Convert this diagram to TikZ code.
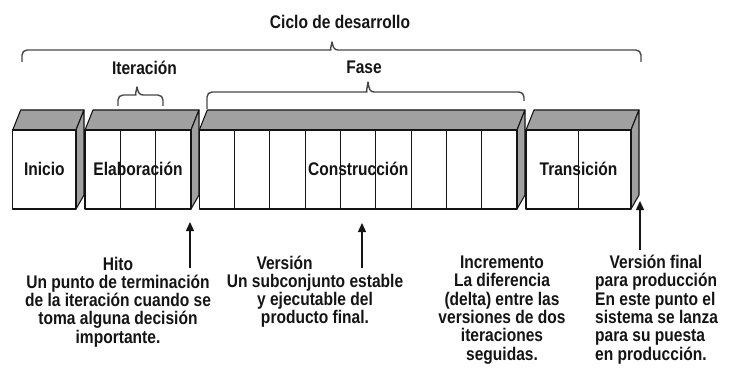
\documentclass[tikz,border=0pt]{standalone}
\usepackage{fontspec}
\newfontfamily\lab[FakeStretch=0.85]{Liberation Sans}
\usetikzlibrary{arrows.meta}
\definecolor{facegray}{RGB}{160,160,160}
\definecolor{bracegray}{RGB}{70,70,70}
\definecolor{ink}{RGB}{20,20,20}
\newcommand\stage[5]{%
  \pgfmathsetmacro\cw{(#3-#2)/#4}
  \filldraw[face] (#2,130) -- (#2+8,110) -- (#3+8,110) -- (#3,130) -- cycle;
  \filldraw[face] (#3,130) -- (#3+8,110) -- (#3+8,195) -- (#3,209) -- cycle;
  \foreach \i in {1,...,#4} {
    \draw[cell] ({#2+(\i-1)*\cw},130) rectangle ({#2+\i*\cw},209);
  }
  \node[lbl, anchor=base] (#1) at ({(#2+#3)/2},175.5) {#5};
}
\newcommand\mybrace[7]{% xL xR yBL yBR yL xT yT
  \draw[brace] (#1,#3) {[rounded corners=5pt] -- (#1,#5) -- (#6-6,#5)}
    .. controls (#6-2,#5) and (#6-1,#5-3) .. (#6,#7)
    .. controls (#6+1,#5-3) and (#6+2,#5) .. (#6+6,#5)
    {[rounded corners=5pt] -- (#2,#5) -- (#2,#4)};
}
\begin{document}
\begin{tikzpicture}[x=1pt,y=-1pt, line join=round,
  face/.style={fill=facegray, draw=ink, line width=1.1pt},
  cell/.style={draw=ink, line width=1.1pt, fill=white},
  lbl/.style={font=\lab\bfseries\fontsize{18.3}{18.3}\selectfont, inner sep=0pt, text=ink},
  brace/.style={draw=bracegray, line width=1.4pt},
  arr/.style={draw=ink, -{Triangle[length=9pt,width=8pt]}, line width=1.4pt}]
\useasboundingbox (0,0) rectangle (734,377);

% stages
\stage{inicio}{12.7}{76}{1}{Inicio}
\stage{elab}{85}{191}{3}{Elaboración}
\stage{constr}{199.3}{517}{9}{Construcción}
\stage{trans}{526}{631}{2}{Transición}

% braces and titles
\mybrace{22}{641}{62}{62}{50}{332}{42}
\mybrace{118}{163}{106}{106}{95}{137}{87}
\mybrace{207}{524}{109}{101}{92}{368}{82}
\node[lbl, anchor=base] (ciclo) at (340,28.5) {Ciclo de desarrollo};
\node[lbl, anchor=base] (iter) at (144.5,74.5) {Iteración};
\node[lbl, anchor=base] (fase) at (364,74) {Fase};

% arrows
\coordinate (hitoS) at (190,268);
\coordinate (hitoE) at (190,222);
\coordinate (verS) at (362,268);
\coordinate (verE) at (362,223);
\coordinate (finS) at (640,250);
\coordinate (finE) at (640,201);
\draw[arr] (hitoS) -- (hitoE);
\draw[arr] (verS) -- (verE);
\draw[arr] (finS) -- (finE);

% notes (base anchor = baseline of the last line)
\node[lbl, align=center, anchor=base] (hito) at (118,343.2)
  {Hito\\Un punto de terminación\\de la iteración cuando se\\toma alguna decisión\\importante.};
\node[lbl, align=center, anchor=base] (version) at (315,323.9)
  {\makebox[117pt][l]{Versión}\\Un subconjunto estable\\y ejecutable del\\producto final.};
\node[lbl, align=center, anchor=base] (incr) at (502,360)
  {Incremento\\La diferencia\\(delta) entre las\\versiones de dos\\iteraciones\\seguidas.};
\node[lbl, align=left, anchor=base west] (final) at (595,360)
  {\hspace*{14.5pt}Versión final\\para producción\\En este punto el\\sistema se lanza\\para su puesta\\en producción.};
\end{tikzpicture}
\end{document}
